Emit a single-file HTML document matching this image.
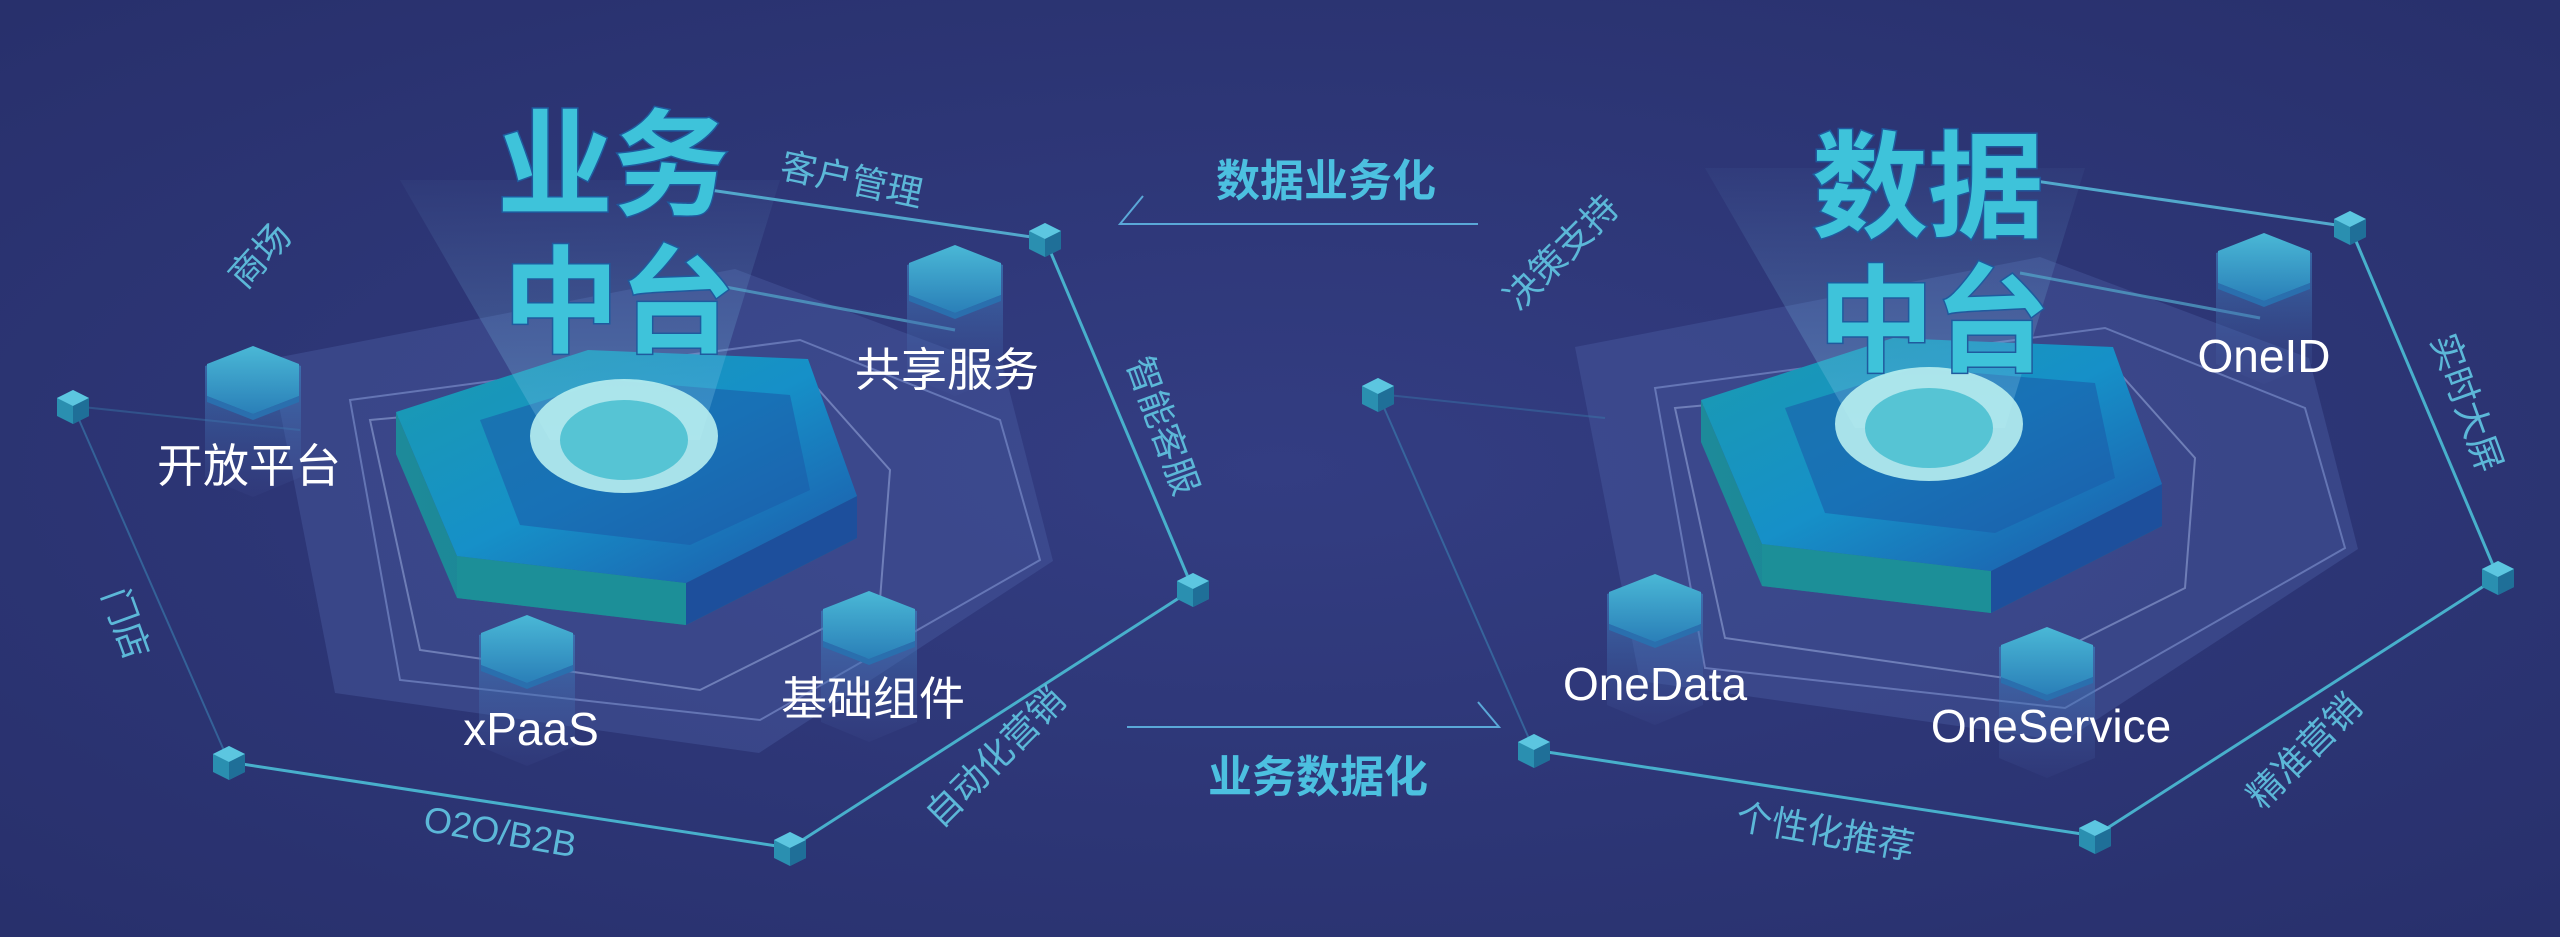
<!DOCTYPE html>
<html><head><meta charset="utf-8"><style>
html,body{margin:0;padding:0;background:#2b3474;}
svg{display:block}
text{font-family:"Liberation Sans","Noto Sans CJK SC",sans-serif;}
</style></head><body>
<svg width="2560" height="937" viewBox="0 0 2560 937" xmlns="http://www.w3.org/2000/svg">
<defs>
<radialGradient id="bg" cx="50%" cy="50%" r="70%"><stop offset="0" stop-color="#333d82"/><stop offset="1" stop-color="#28306c"/></radialGradient>
<linearGradient id="top" x1="0" y1="0" x2="1" y2="1"><stop offset="0" stop-color="#1a9bb0"/><stop offset="0.5" stop-color="#1690c8"/><stop offset="1" stop-color="#1e55a8"/></linearGradient>
<linearGradient id="side" x1="0" y1="0" x2="1" y2="0"><stop offset="0" stop-color="#1d8a9a"/><stop offset="1" stop-color="#1a7f86"/></linearGradient>
<linearGradient id="pil" x1="0" y1="0" x2="0" y2="1"><stop offset="0" stop-color="#4ab8d6"/><stop offset="1" stop-color="#2a7fb8"/></linearGradient>
<linearGradient id="pilb" x1="0" y1="0" x2="0" y2="1"><stop offset="0" stop-color="#3a8cc8" stop-opacity="0.7"/><stop offset="1" stop-color="#4a5aa0" stop-opacity="0.1"/></linearGradient>
<linearGradient id="beam" x1="0" y1="0" x2="0" y2="1"><stop offset="0" stop-color="#6fa8d8" stop-opacity="0.05"/><stop offset="1" stop-color="#7fc8e8" stop-opacity="0.35"/></linearGradient>
<g id="pillar">
<polygon points="-48,-16 -48,95 0,115 48,95 48,-16 0,-34" fill="url(#pilb)"/>
<polygon points="0,-36 46,-18 46,14 0,32 -46,14 -46,-18" fill="url(#pil)"/>
<polygon points="-46,14 0,32 46,14 46,20 0,38 -46,20" fill="#2a6fae"/>
</g>
<g id="cube">
<polygon points="0,-16 16,-8 16,10 0,18 -16,10 -16,-8" fill="#2a8fb0"/>
<polygon points="0,-16 16,-8 0,0 -16,-8" fill="#5cc6e0"/>
<polygon points="0,0 16,-8 16,10 0,18" fill="#1f6f98"/>
</g>
<g id="base">
<polygon points="270,359 735,269 1004,370 1053,561 759,753 335,693" fill="#4a5aa0" fill-opacity="0.45"/>
<polygon points="350,400 800,340 1000,420 1040,560 760,720 400,680" fill="none" stroke="#8fa3e0" stroke-opacity="0.5" stroke-width="2"/>
<polygon points="370,420 810,380 890,470 880,600 700,690 420,650" fill="none" stroke="#b0c0f0" stroke-opacity="0.45" stroke-width="2"/>
<!-- main hex -->
<polygon points="396,412 457,556 686,583 857,496 857,538 686,625 457,598 396,454" fill="url(#side)"/>
<polygon points="457,598 686,625 686,583 457,556" fill="#1c8f98"/>
<polygon points="686,625 857,538 857,496 686,583" fill="#1d4f9c"/>
<polygon points="396,412 588,350 808,359 857,496 686,583 457,556" fill="url(#top)"/>
<polygon points="480,420 610,380 790,395 810,490 690,545 520,525" fill="#1b5eaa" fill-opacity="0.6"/>
<!-- beam -->
<polygon points="400,180 780,180 700,440 550,440" fill="url(#beam)"/>
<ellipse cx="624" cy="436" rx="94" ry="57" fill="#b8eef0" fill-opacity="0.9"/>
<ellipse cx="624" cy="440" rx="64" ry="40" fill="#56c4d4"/>
<line x1="710" y1="190" x2="1045" y2="239" stroke="#52a8cc" stroke-width="3"/>
<line x1="1045" y1="239" x2="1193" y2="589" stroke="#48b0cc" stroke-width="3"/>
<line x1="1193" y1="589" x2="790" y2="848" stroke="#48b0cc" stroke-width="3"/>
<line x1="790" y1="848" x2="229" y2="762" stroke="#48b0cc" stroke-width="3"/>
<line x1="229" y1="762" x2="73" y2="406" stroke="#3a80b0" stroke-width="2" stroke-opacity="0.6"/>
<line x1="73" y1="406" x2="300" y2="430" stroke="#3a80b0" stroke-width="2" stroke-opacity="0.4"/>
<line x1="715" y1="285" x2="955" y2="330" stroke="#52a8cc" stroke-width="3" stroke-opacity="0.7"/>
<use href="#cube" x="1045" y="239"/><use href="#cube" x="1193" y="589"/>
<use href="#cube" x="790" y="848"/><use href="#cube" x="229" y="762"/><use href="#cube" x="73" y="406"/>
</g>
</defs>
<rect width="2560" height="937" fill="url(#bg)"/>
<use href="#base"/>
<g transform="translate(1305,-12)"><use href="#base"/></g>
<!-- left pillars -->
<use href="#pillar" x="253" y="382"/><use href="#pillar" x="955" y="281"/>
<use href="#pillar" x="527" y="651"/><use href="#pillar" x="869" y="627"/>
<!-- right pillars -->
<use href="#pillar" x="2264" y="269"/><use href="#pillar" x="1655" y="610"/><use href="#pillar" x="2047" y="663"/>
<!-- titles -->
<g font-weight="bold" font-size="116" fill="#3ec3da" stroke="#1f5a9e" stroke-width="3" paint-order="stroke">
<text x="497" y="206">业务</text><text x="503" y="343">中台</text>
<text x="1812" y="228">数据</text><text x="1818" y="362">中台</text>
</g>
<!-- white labels -->
<g fill="#ffffff" font-size="46" text-anchor="middle">
<text x="249" y="482">开放平台</text><text x="947" y="386">共享服务</text>
<text x="531" y="745">xPaaS</text><text x="873" y="715">基础组件</text>
<text x="2264" y="372">OneID</text><text x="1655" y="700">OneData</text><text x="2051" y="742">OneService</text>
</g>
<!-- rotated light labels -->
<g fill="#5cb8d8" font-size="36" text-anchor="middle">
<text transform="translate(849,192) rotate(12)">客户管理</text>
<text transform="translate(269,264) rotate(-48)">商场</text>
<text transform="translate(1151,430) rotate(70)">智能客服</text>
<text transform="translate(114,628) rotate(70)">门店</text>
<text transform="translate(498,844) rotate(10)">O2O/B2B</text>
<text transform="translate(1004,766) rotate(-45)">自动化营销</text>
<text transform="translate(1570,261) rotate(-45)">决策支持</text>
<text transform="translate(2455,407) rotate(70)">实时大屏</text>
<text transform="translate(2313,760) rotate(-45)">精准营销</text>
<text transform="translate(1823,844) rotate(10)">个性化推荐</text>
</g>
<!-- middle arrows -->
<g font-weight="bold" font-size="44" fill="#4cc0e0" text-anchor="middle">
<text x="1326" y="196">数据业务化</text>
<text x="1318" y="792">业务数据化</text>
</g>
<polyline points="1143,196 1120,224 1478,224" fill="none" stroke="#5aa8d8" stroke-width="2"/>
<polyline points="1127,727 1499,727 1478,702" fill="none" stroke="#5aa8d8" stroke-width="2"/>
</svg>
</body></html>
